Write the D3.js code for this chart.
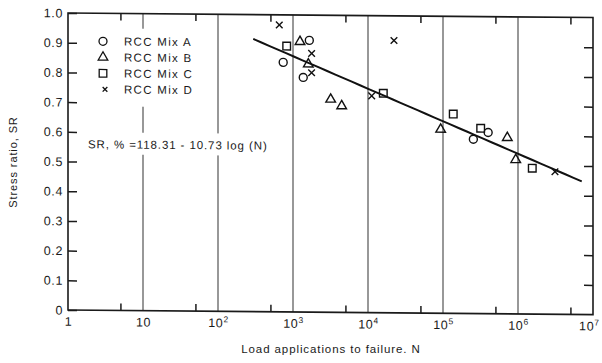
<!DOCTYPE html>
<html>
<head>
<meta charset="utf-8">
<script src="https://cdn.jsdelivr.net/npm/d3@7"></script>
<style>
  html, body { margin: 0; padding: 0; background: #fff; }
  svg { display: block; }
  text { font-family: "Liberation Sans", "DejaVu Sans", Arial, sans-serif; fill: #1a1a1a; }
</style>
</head>
<body>
<svg id="chart" width="602" height="363"></svg>
<script>
// Fatigue test results: load applications to failure (N) vs stress ratio (SR)
const mixA_N  = [740, 1370, 1650, 254000, 400000];
const mixA_SR = [0.84, 0.79, 0.915, 0.587, 0.61];

const mixB_N  = [1240, 1600, 3180, 4460, 93100, 720000, 933000];
const mixB_SR = [0.91, 0.835, 0.717, 0.695, 0.619, 0.593, 0.519];

const mixC_N  = [824, 16000, 137000, 318000, 1550000];
const mixC_SR = [0.895, 0.739, 0.671, 0.624, 0.491];

const mixD_N  = [656, 1770, 1770, 11200, 22200, 3110000];
const mixD_SR = [0.966, 0.871, 0.806, 0.730, 0.917, 0.480];

// Regression: SR, % = 118.31 - 10.73 log(N)
const fitIntercept = 118.31;
const fitSlope = 10.73;
const fitRangeN = [295, 7080000];

const seriesNames = ["RCC Mix A", "RCC Mix B", "RCC Mix C", "RCC Mix D"];
const yTicks = [0, 0.1, 0.2, 0.3, 0.4, 0.5, 0.6, 0.7, 0.8, 0.9, 1.0];
const xDecades = [1, 10, 100, 1e3, 1e4, 1e5, 1e6, 1e7];
const xMinor = [5, 50, 500, 5e3, 5e4, 5e5, 5e6];

const svg = d3.select("#chart");
const ink = "#1a1a1a";

// whole figure leans very slightly, as printed
const root = svg.append("g").attr("transform", "translate(68,0) skewY(0.5) translate(-68,0)");

const x = d3.scaleLog().domain([1, 1e7]).range([68, 593]);
const y = d3.scaleLinear().domain([0, 1]).range([310, 13]);

// vertical decade gridlines
root.append("g").selectAll("line")
  .data(xDecades.slice(1, -1))
  .join("line")
  .attr("x1", d => x(d)).attr("x2", d => x(d))
  .attr("y1", y(0)).attr("y2", y(1))
  .attr("stroke", "#333").attr("stroke-width", 1);

// frame
root.append("rect")
  .attr("x", x(1)).attr("y", y(1))
  .attr("width", x(1e7) - x(1)).attr("height", y(0) - y(1))
  .attr("fill", "none").attr("stroke", ink).attr("stroke-width", 1.6);

function styleAxis(g) {
  g.select(".domain").remove();
  g.selectAll(".tick line").attr("stroke", ink).attr("stroke-width", 1.5);
}

// left axis
const yAxisL = root.append("g")
  .attr("transform", `translate(${x(1)},0)`)
  .call(d3.axisLeft(y).tickValues(yTicks).tickSize(-9).tickPadding(5)
    .tickFormat(d => d === 0 ? "0" : d.toFixed(1)));
styleAxis(yAxisL);
yAxisL.selectAll("text").attr("font-size", 12.5).attr("letter-spacing", 0.6).attr("fill", ink);

// right axis ticks
const yAxisR = root.append("g")
  .attr("transform", `translate(${x(1e7)},0)`)
  .call(d3.axisRight(y).tickValues(yTicks.slice(1, -1)).tickSize(-9).tickFormat(""));
styleAxis(yAxisR);

// bottom minor ticks
const xMinorB = root.append("g")
  .attr("transform", `translate(0,${y(0)})`)
  .call(d3.axisBottom(x).tickValues(xMinor).tickSize(-7).tickFormat(""));
styleAxis(xMinorB);

// top minor ticks
const xMinorT = root.append("g")
  .attr("transform", `translate(0,${y(1)})`)
  .call(d3.axisTop(x).tickValues(xMinor).tickSize(-7).tickFormat(""));
styleAxis(xMinorT);

// bottom decade labels
const xAxisB = root.append("g")
  .attr("transform", `translate(0,${y(0)})`)
  .call(d3.axisBottom(x).tickValues(xDecades).tickSize(0).tickPadding(7).tickFormat(""));
styleAxis(xAxisB);
xAxisB.selectAll(".tick text").each(function(d) {
  const t = d3.select(this).attr("font-size", 12.5).attr("letter-spacing", 0.6).attr("fill", ink);
  const k = Math.round(Math.log10(d));
  if (k <= 1) {
    t.text(k === 0 ? "1" : "10");
  } else {
    t.append("tspan").text("10");
    t.append("tspan").attr("dy", -5).attr("font-size", 8.5).text(String(k));
  }
  // last label sits against the right edge of the figure
  if (k === 7) t.attr("text-anchor", "end").attr("x", 6);
});

// legend and equation sit on a white ground over the gridlines
const legend = root.append("g");
legend.append("rect")
  .attr("x", 92).attr("y", 28).attr("width", 108).attr("height", 78).attr("fill", "#fff");

const eqText = "SR, % =118.31 - 10.73 log (N)";
const eqG = root.append("g");
eqG.append("rect").attr("x", 86).attr("y", 132).attr("width", 196).attr("height", 22).attr("fill", "#fff");
eqG.append("text")
  .attr("x", 88).attr("y", 148)
  .attr("font-size", 11.5).attr("letter-spacing", 0.9)
  .text(eqText);

// symbols
const symX = {
  draw(ctx, size) {
    const r = Math.sqrt(size) / 2;
    ctx.moveTo(-r, -r); ctx.lineTo(r, r);
    ctx.moveTo(r, -r); ctx.lineTo(-r, r);
  }
};
const symTypes = [d3.symbolCircle, d3.symbolTriangle, d3.symbolSquare, symX];
const symSizes = [50, 40, 58, 44];
const seriesData = [
  [mixA_N, mixA_SR], [mixB_N, mixB_SR], [mixC_N, mixC_SR], [mixD_N, mixD_SR]
];

// regression line
const fitN = d3.range(0, 41).map(i => Math.pow(10,
  Math.log10(fitRangeN[0]) + i / 40 * (Math.log10(fitRangeN[1]) - Math.log10(fitRangeN[0]))));
root.append("path")
  .datum(fitN)
  .attr("fill", "none").attr("stroke", "#111").attr("stroke-width", 2)
  .attr("d", d3.line().x(n => x(n)).y(n => y((fitIntercept - fitSlope * Math.log10(n)) / 100)));

seriesData.forEach(([ns, srs], i) => {
  const pts = ns.map((n, j) => ({ n, sr: srs[j] }));
  root.append("g").selectAll("path")
    .data(pts)
    .join("path")
    .attr("transform", d => `translate(${x(d.n)},${y(d.sr)})`)
    .attr("d", d3.symbol().type(symTypes[i]).size(symSizes[i]))
    .attr("fill", "none").attr("stroke", "#111").attr("stroke-width", 1.4);
});

// legend entries
const legY = [41, 57, 73, 89];
seriesNames.forEach((name, i) => {
  legend.append("path")
    .attr("transform", `translate(${i === 3 ? 105 : 103},${legY[i]})`)
    .attr("d", d3.symbol().type(symTypes[i]).size(i === 3 ? 22 : symSizes[i]))
    .attr("fill", "none").attr("stroke", "#111").attr("stroke-width", 1.3);
  legend.append("text")
    .attr("x", 124).attr("y", legY[i] + 4)
    .attr("font-size", 11.5).attr("letter-spacing", 1.3)
    .text(name);
});

// axis titles
svg.append("text")
  .attr("transform", "translate(17,162) rotate(-90)")
  .attr("text-anchor", "middle")
  .attr("font-size", 11).attr("letter-spacing", 0.9)
  .text("Stress ratio, SR");

svg.append("text")
  .attr("x", 331).attr("y", 353)
  .attr("text-anchor", "middle")
  .attr("font-size", 11.5).attr("letter-spacing", 0.9)
  .text("Load applications to failure. N");
</script>
</body>
</html>
